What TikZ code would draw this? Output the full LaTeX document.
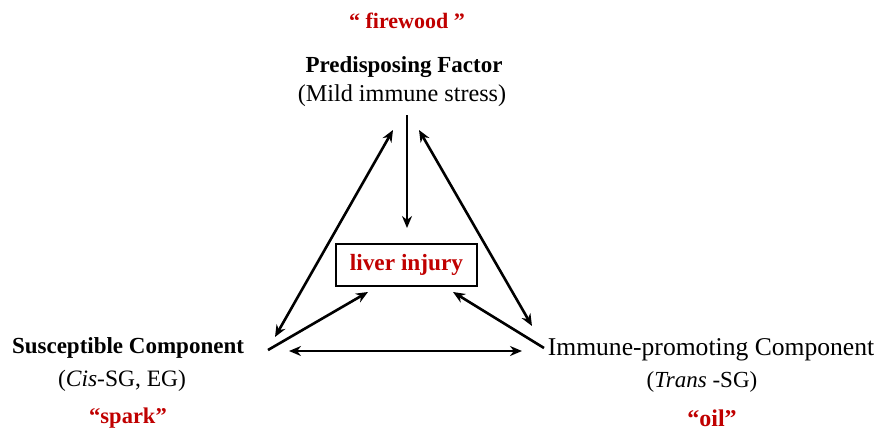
\documentclass[tikz,border=0pt]{standalone}
\usepackage{fontspec}
\setmainfont{Liberation Serif}
\usetikzlibrary{arrows.meta}
\definecolor{darkred}{RGB}{192,0,0}
\newcommand{\fsz}[1]{\fontsize{#1}{#1}\selectfont}
\begin{document}
\begin{tikzpicture}[x=1pt,y=-1pt,
  lbl/.style={inner sep=0pt, align=center},
  redlbl/.style={lbl, text=darkred},
  arr/.style={line width=2.6pt, -{Stealth[length=12pt,width=10pt]}},
  darr/.style={line width=2.6pt, {Stealth[length=12pt,width=10pt]}-{Stealth[length=12pt,width=10pt]}}]
\useasboundingbox (0,0) rectangle (877,432);
% labels
\node[redlbl, font=\fsz{22}\bfseries] (fw) at (407,21) {“ firewood ”};
\node[lbl, font=\fsz{23}\bfseries] (pf) at (404,67) {Predisposing Factor};
\node[lbl, font=\fsz{24.2}] (pfs) at (402,96) {(Mild immune stress)};
\node[lbl, font=\fsz{23}\bfseries] (sc) at (128,348) {Susceptible Component};
\node[lbl, font=\fsz{23.5}] (scs) at (122,381) {(\textit{Cis}-SG, EG)};
\node[redlbl, font=\fsz{22.5}\bfseries] (sp) at (128,418) {“spark”};
\node[lbl, font=\fsz{25.6}] (ic) at (711,350) {Immune-promoting Component};
\node[lbl, font=\fsz{23}] (ics) at (702,382) {(\textit{Trans} -SG)};
\node[redlbl, font=\fsz{24}\bfseries] (oil) at (712,418) {“oil”};
% central box
\node[draw, line width=1.5pt, minimum width=141pt, minimum height=42pt, inner sep=0pt,
      text=darkred, font=\fsz{23.3}\bfseries] (li) at (406.5,265) {liver injury};
% coordinates
\coordinate (vt) at (407,115);
\coordinate (vb) at (407,228);
\coordinate (lt) at (393,130);
\coordinate (lb) at (275,337);
\coordinate (rt) at (419,130);
\coordinate (rb) at (532,326);
\coordinate (la) at (268,350);
\coordinate (lh) at (368,292);
\coordinate (ra) at (544,348);
\coordinate (rh) at (453,292);
\coordinate (hl) at (289,351);
\coordinate (hr) at (522,351);
% connectors
\draw[arr] (vt) -- (vb);
\draw[darr] (lb) -- (lt);
\draw[darr] (rb) -- (rt);
\draw[arr] (la) -- (lh);
\draw[arr] (ra) -- (rh);
\draw[darr] (hl) -- (hr);
\end{tikzpicture}
\end{document}
